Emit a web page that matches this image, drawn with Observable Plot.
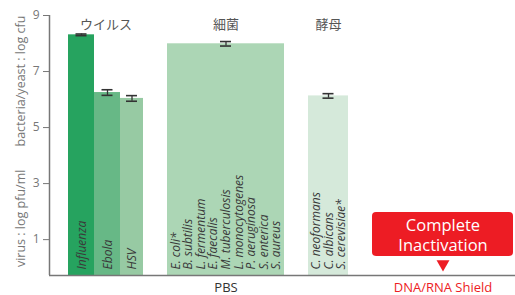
<!DOCTYPE html>
<html><head><meta charset="utf-8">
<script src="https://cdn.jsdelivr.net/npm/d3@7"></script>
<script src="https://cdn.jsdelivr.net/npm/@observablehq/plot@0.6"></script>
<style>body{margin:0;background:#fff} #chart svg{display:block}</style>
</head><body><div id="chart"></div>
<script>
// ---- data ----
const categories = ["Influenza", "Ebola", "HSV", "細菌", "酵母", "DNA/RNA Shield"];
const groups = ["ウイルス", "ウイルス", "ウイルス", "細菌", "酵母", null];
const values = [8.31, 6.25, 6.04, 7.99, 6.13, null];
const errors = [0.03, 0.1, 0.1, 0.08, 0.08, null];
const barLabels = [
  ["Influenza"],
  ["Ebola"],
  ["HSV"],
  ["E. coli*", "B. subtilis", "L. fermentum", "E. faecalis", "M. tuberculosis",
   "L. monocytogenes", "P. aeruginosa", "S. enterica", "S. aureus"],
  ["C. neoformans", "C. albicans", "S. cerevisiae*"],
  []
];
const conditions = ["PBS", "DNA/RNA Shield"];
const yTicks = [1, 3, 5, 7, 9];
const axisTitles = ["virus : log pfu/ml", "bacteria/yeast : log cfu"];
const shieldText = "Complete\nInactivation";

// ---- layout (not data) ----
const slotStart = [19, 45, 71, 118, 259, 323];
const slotWidth = [26, 26, 23, 117, 40, 141];
const yMin = -0.28, yMax = 9;
const colors = ["#26a35f", "#67b886", "#97caa3", "#acd6b5", "#d5e9da", "#ffffff"];
const font = "'Open Sans', 'Noto Sans CJK JP', sans-serif";

const rows = categories.map((c, i) => ({
  category: c, group: groups[i], value: values[i], error: errors[i],
  labels: barLabels[i].join("\n"),
  x1: slotStart[i], x2: slotStart[i] + slotWidth[i],
  xc: slotStart[i] + slotWidth[i] / 2
}));
const bars = rows.filter(d => d.value != null);
const shield = rows.filter(d => d.value == null);

const groupSpans = [];
for (const r of bars) {
  let g = groupSpans.find(s => s.group === r.group);
  if (!g) groupSpans.push(g = {group: r.group, x1: r.x1, x2: r.x2});
  g.x1 = Math.min(g.x1, r.x1); g.x2 = Math.max(g.x2, r.x2);
}
groupSpans.forEach(g => g.xc = (g.x1 + g.x2) / 2);

const condRows = [
  {condition: conditions[0], x: rows[3].xc, fill: "#333"},
  {condition: conditions[1], x: shield[0].xc, fill: "#ed1c24"}
];

const caps = bars.flatMap(d => [
  {xc: d.xc, y: d.value - d.error},
  {xc: d.xc, y: d.value + d.error}
]);

const chart = Plot.plot({
  width: 515, height: 295,
  marginLeft: 49, marginRight: 0, marginTop: 15, marginBottom: 20,
  style: {fontFamily: font, color: "#777", background: "#fff"},
  x: {domain: [0, 466], axis: null},
  y: {domain: [yMin, yMax], axis: null},
  color: {domain: categories, range: colors},
  marks: [
    Plot.rectY(bars, {x1: "x1", x2: "x2", y1: yMin, y2: "value", fill: "category"}),
    Plot.ruleX(bars, {x: "xc", y1: d => d.value - d.error, y2: d => d.value + d.error, stroke: "#333", strokeWidth: 1.3}),
    Plot.ruleY(caps, {x1: d => d.xc - 5.5, x2: d => d.xc + 5.5, y: "y", stroke: "#333", strokeWidth: 1.6}),
    Plot.text(bars, {x: "xc", y: yMin, dy: -6, text: "labels", rotate: -90, textAnchor: "start",
      lineAnchor: "middle", lineHeight: 1.05, fontStyle: "italic", fontSize: 12, fill: "#3a3a3a"}),
    Plot.text(groupSpans, {x: "xc", y: yMax, dy: 9, text: "group", fontSize: 13, fill: "#555", lineAnchor: "middle"}),
    Plot.ruleY([yMin], {stroke: "#777", strokeWidth: 1.5}),
    Plot.ruleX([0], {y1: yMin, y2: yMax, stroke: "#777", strokeWidth: 1.5}),
    Plot.axisY({ticks: yTicks, tickSize: 6, tickPadding: 4, label: null, fontSize: 12, stroke: "#777", fill: "#777"}),
    Plot.text(axisTitles, {frameAnchor: "left", dx: -29, y: (d, i) => [1.76, 6.66][i], text: d => d,
      rotate: -90, textAnchor: "middle", lineAnchor: "middle", fontSize: 12.5, fill: "#777"}),
    Plot.rect(shield, {x1: "x1", x2: "x2", y1: 0.4, y2: 1.97, rx: 4, fill: "#ed1c24"}),
    Plot.text(shield, {x: "xc", y: (0.4 + 1.97) / 2, text: () => shieldText, fill: "#fff", fontSize: 16.5, lineHeight: 1.22, lineAnchor: "middle"}),
    Plot.dot(shield, {x: "xc", y: yMin, dy: -11.5, symbol: "triangle", r: 4.8, rotate: 180, fill: "#ed1c24", stroke: null}),
    Plot.text(condRows, {x: "x", y: yMin, dy: 12.5, text: "condition", fill: "fill", fontSize: 13, lineAnchor: "middle"})
  ]
});
document.getElementById("chart").append(chart);
</script>
</body></html>
